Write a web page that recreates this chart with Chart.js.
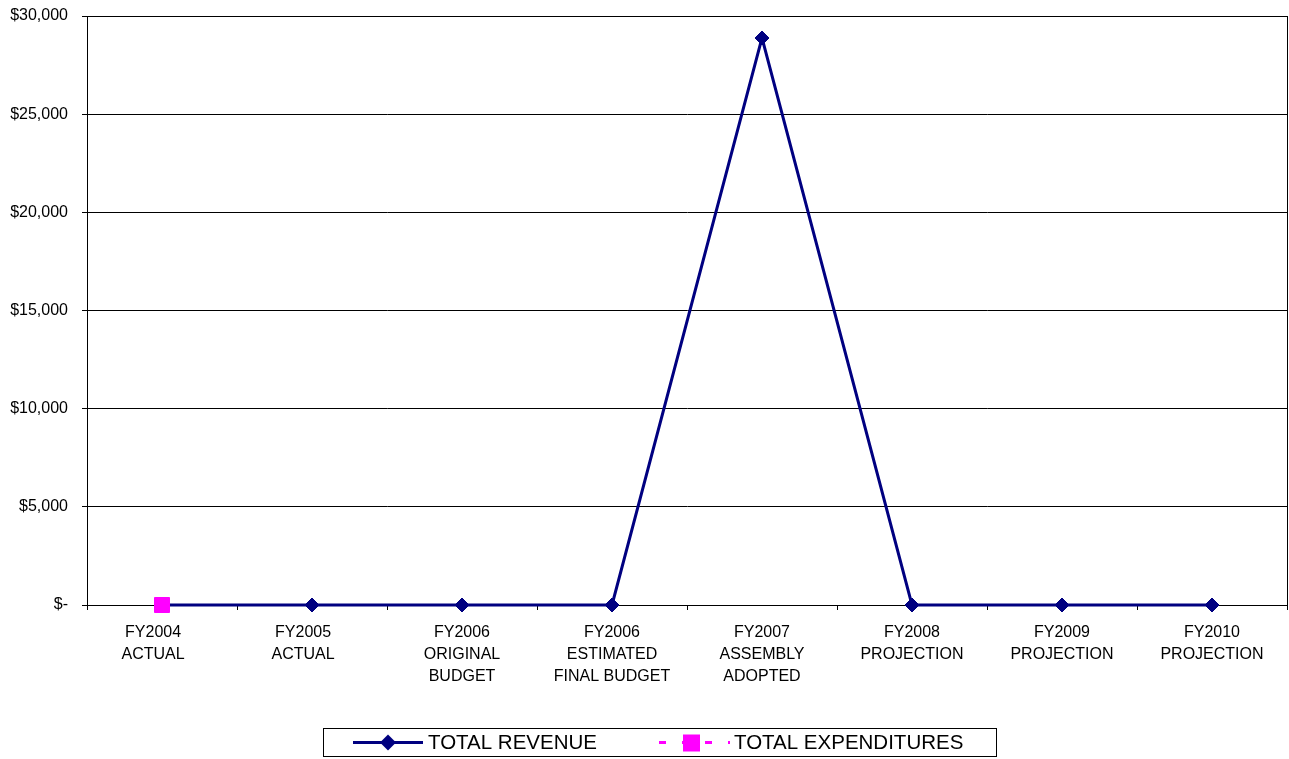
<!DOCTYPE html>
<html>
<head>
<meta charset="utf-8">
<script src="https://cdn.jsdelivr.net/npm/chart.js@4"></script>
<style>
  html, body { margin: 0; padding: 0; background: #ffffff; }
  canvas { display: block; }
</style>
</head>
<body>
<canvas id="chart" width="1289" height="759"></canvas>
<script>
// Fiscal-year categories (multi-line labels)
const categories = [
  ["FY2004    ", "ACTUAL    "],
  ["FY2005    ", "ACTUAL    "],
  ["FY2006", "ORIGINAL", "BUDGET"],
  ["FY2006", "ESTIMATED", "FINAL BUDGET"],
  ["FY2007", "ASSEMBLY", "ADOPTED"],
  ["FY2008", "PROJECTION"],
  ["FY2009", "PROJECTION"],
  ["FY2010", "PROJECTION"]
];

// Series values (dollars)
const totalRevenue = [0, 0, 0, 0, 28880, 0, 0, 0];
const totalExpenditures = [0, null, null, null, null, null, null, null];

// Value-axis ticks
const yTicks = [0, 5000, 10000, 15000, 20000, 25000, 30000];

const seriesNames = ["TOTAL REVENUE", "TOTAL EXPENDITURES"];

const NAVY = "#000080";
const MAGENTA = "#FF00FF";
const FONT = "'Liberation Sans', Arial, sans-serif";

function formatDollar(v) {
  if (v === 0) return "$-";
  return "$" + v.toLocaleString("en-US");
}

// Box around the plot area (right edge and frame)
const plotFrame = {
  id: "plotFrame",
  beforeDatasetsDraw(chart) {
    const { ctx, chartArea: a } = chart;
    ctx.save();
    ctx.strokeStyle = "#000";
    ctx.lineWidth = 1;
    ctx.strokeRect(Math.round(a.left) + 0.5, Math.round(a.top) + 0.5,
                   Math.round(a.right - a.left), Math.round(a.bottom - a.top));
    ctx.restore();
  }
};

// Boxed legend below the chart, with line + marker samples
const boxedLegend = {
  id: "boxedLegend",
  afterDraw(chart) {
    const ctx = chart.ctx;
    const boxX = 323, boxY = 728, boxW = 673, boxH = 28;
    const cy = boxY + boxH / 2 + 0.5;
    ctx.save();
    ctx.fillStyle = "#fff";
    ctx.fillRect(boxX, boxY, boxW, boxH);
    ctx.strokeStyle = "#000";
    ctx.lineWidth = 1;
    ctx.strokeRect(boxX + 0.5, boxY + 0.5, boxW, boxH);

    // Revenue sample: solid navy line with diamond
    ctx.strokeStyle = NAVY;
    ctx.lineWidth = 3;
    ctx.beginPath();
    ctx.moveTo(353, cy);
    ctx.lineTo(423, cy);
    ctx.stroke();
    ctx.fillStyle = NAVY;
    ctx.beginPath();
    const dx = 388, r = 8;
    ctx.moveTo(dx - r, cy);
    ctx.lineTo(dx, cy - r);
    ctx.lineTo(dx + r, cy);
    ctx.lineTo(dx, cy + r);
    ctx.closePath();
    ctx.fill();

    // Expenditures sample: dashed magenta line with square
    ctx.strokeStyle = MAGENTA;
    ctx.lineWidth = 3;
    ctx.setLineDash([7, 16]);
    ctx.beginPath();
    ctx.moveTo(659, cy);
    ctx.lineTo(730, cy);
    ctx.stroke();
    ctx.setLineDash([]);
    ctx.fillStyle = MAGENTA;
    ctx.fillRect(683, cy - 8, 17, 17);

    // Labels
    ctx.fillStyle = "#000";
    ctx.font = "20.5px " + FONT;
    ctx.textBaseline = "middle";
    ctx.textAlign = "left";
    ctx.fillText(seriesNames[0], 428, cy + 1);
    ctx.fillText(seriesNames[1], 734, cy + 1);
    ctx.restore();
  }
};

Chart.defaults.font.family = FONT;
Chart.defaults.color = "#000";

new Chart(document.getElementById("chart"), {
  type: "line",
  data: {
    labels: categories,
    datasets: [
      {
        label: seriesNames[0],
        data: totalRevenue,
        borderColor: NAVY,
        backgroundColor: NAVY,
        borderWidth: 3,
        pointStyle: "rectRot",
        pointRadius: 7,
        pointBorderWidth: 1,
        pointBackgroundColor: NAVY,
        pointBorderColor: NAVY,
        tension: 0,
        clip: false,
        order: 2
      },
      {
        label: seriesNames[1],
        data: totalExpenditures,
        borderColor: MAGENTA,
        backgroundColor: MAGENTA,
        borderWidth: 3,
        borderDash: [7, 16],
        pointStyle: "rect",
        pointRadius: 10.6,
        pointBorderWidth: 1,
        pointBackgroundColor: MAGENTA,
        pointBorderColor: MAGENTA,
        tension: 0,
        clip: false,
        order: 1
      }
    ]
  },
  options: {
    responsive: false,
    animation: false,
    devicePixelRatio: 1,
    layout: { autoPadding: false, padding: { top: 16, right: 2, bottom: 0, left: 0 } },
    plugins: {
      legend: { display: false },
      tooltip: { enabled: false }
    },
    scales: {
      x: {
        offset: true,
        grid: {
          offset: true,
          drawOnChartArea: false,
          drawTicks: true,
          tickLength: 5,
          color: "#000",
          tickColor: "#000"
        },
        border: { display: true, color: "#000", width: 1 },
        ticks: {
          maxRotation: 0,
          minRotation: 0,
          autoSkip: false,
          padding: 12,
          color: "#000",
          font: { size: 16, lineHeight: 1.375 }
        },
        afterFit(scale) {
          scale.height = 154;
          scale.paddingLeft = 0;
          scale.paddingRight = 0;
        }
      },
      y: {
        min: 0,
        max: 30000,
        afterBuildTicks(scale) { scale.ticks = yTicks.map(v => ({ value: v })); },
        grid: {
          color: "#000",
          tickColor: "#000",
          lineWidth: 1,
          drawTicks: true,
          tickLength: 5
        },
        border: { display: true, color: "#000", width: 1 },
        ticks: {
          padding: 14,
          color: "#000",
          font: { size: 16 },
          callback: (v) => formatDollar(v)
        },
        afterFit(scale) {
          scale.width = 87;
          scale.paddingTop = 0;
          scale.paddingBottom = 0;
        }
      }
    }
  },
  plugins: [plotFrame, boxedLegend]
});
</script>
</body>
</html>
